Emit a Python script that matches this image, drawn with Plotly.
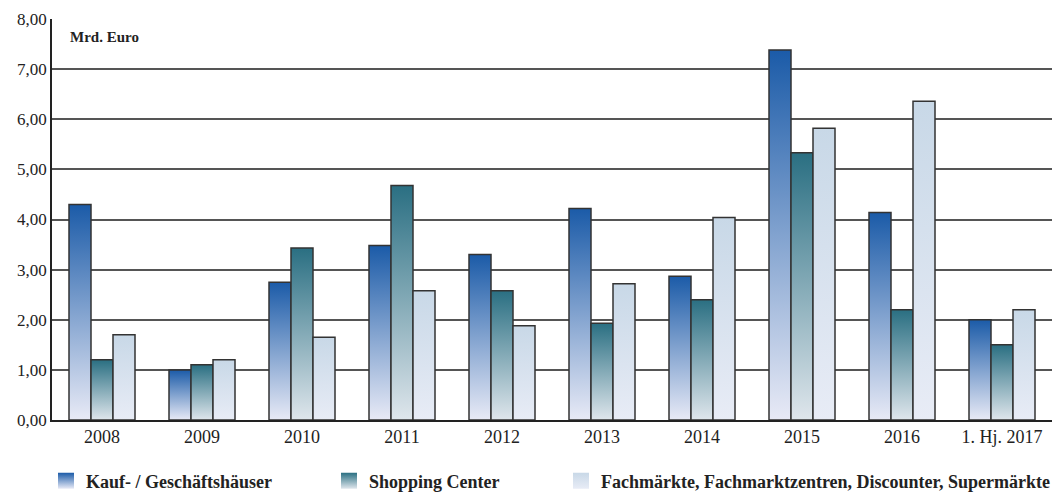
import plotly.graph_objects as go

categories = ["2008", "2009", "2010", "2011", "2012", "2013", "2014", "2015", "2016", "1. Hj. 2017"]
kauf = [4.30, 1.00, 2.75, 3.48, 3.30, 4.22, 2.87, 7.38, 4.14, 2.00]
shopping = [1.20, 1.10, 3.43, 4.68, 2.58, 1.93, 2.40, 5.33, 2.20, 1.50]
fachm = [1.70, 1.20, 1.65, 2.58, 1.88, 2.72, 4.04, 5.82, 6.36, 2.20]
y_ticks = [0, 1, 2, 3, 4, 5, 6, 7, 8]

series = [
    ("Kauf- / Geschäftshäuser", kauf, "#e8eaf6", "#1b5ba8", "legend"),
    ("Shopping Center", shopping, "#dfe6ec", "#2a6f82", "legend2"),
    ("Fachmärkte, Fachmarktzentren, Discounter, Supermärkte", fachm, "#e8ecf6", "#c8d8e7", "legend3"),
]

BAR_W = 0.22
FONT = "Liberation Serif"
TXT = "#222222"

fig = go.Figure()
for s_idx, (name, vals, c_low, c_high, leg) in enumerate(series):
    off = (s_idx - 1) * BAR_W
    for i, v in enumerate(vals):
        x0 = i + off - BAR_W / 2
        x1 = i + off + BAR_W / 2
        fig.add_trace(go.Scatter(
            x=[x0, x0, x1, x1, x0],
            y=[0, v, v, 0, 0],
            mode="lines",
            fill="toself",
            fillgradient=dict(type="vertical", colorscale=[[0, c_low], [1, c_high]]),
            line=dict(color="#333333", width=1.5),
            name=name,
            showlegend=False,
            hoverinfo="skip",
        ))
    # legend entry
    fig.add_trace(go.Scatter(
        x=[None], y=[None], mode="markers", name="<b>" + name + "</b>",
        marker=dict(symbol="square", size=22, color=c_high,
                    gradient=dict(type="vertical", color=c_low), line=dict(width=0)),
        legend=leg, showlegend=True, hoverinfo="skip",
    ))

fig.add_annotation(x=0, y=1, xref="paper", yref="paper", xanchor="left", yanchor="top",
                   xshift=16, yshift=-8, text="<b>Mrd. Euro</b>", showarrow=False,
                   font=dict(family=FONT, size=15, color=TXT))

legend_common = dict(orientation="h", yanchor="middle", xanchor="left", yref="container",
                     xref="container", font=dict(family=FONT, size=18, color=TXT),
                     bgcolor="rgba(0,0,0,0)", itemclick=False, itemsizing="trace")
fig.update_layout(
    width=1061, height=493,
    margin=dict(l=52, r=9, t=19, b=73),
    plot_bgcolor="white", paper_bgcolor="white",
    separators=",.",
    font=dict(family=FONT, size=17, color=TXT),
    xaxis=dict(range=[-0.5, 9.5], tickvals=list(range(len(categories))), ticktext=categories,
               showgrid=False, zeroline=False, showline=True, linecolor=TXT, linewidth=1.5,
               ticks="", tickfont=dict(family=FONT, size=18, color=TXT), fixedrange=True),
    yaxis=dict(range=[0, 8], tickvals=y_ticks, tickformat=".2f", showgrid=True, gridcolor="#555555",
               gridwidth=1.5, zeroline=False, showline=True, linecolor=TXT, linewidth=1.5,
               ticks="", tickfont=dict(family=FONT, size=17, color=TXT), fixedrange=True),
    legend=dict(x=46 / 1061, y=1 - 481 / 493, **legend_common),
    legend2=dict(x=329 / 1061, y=1 - 481 / 493, **legend_common),
    legend3=dict(x=561 / 1061, y=1 - 481 / 493, **legend_common),
)
fig.write_html("out.html")
